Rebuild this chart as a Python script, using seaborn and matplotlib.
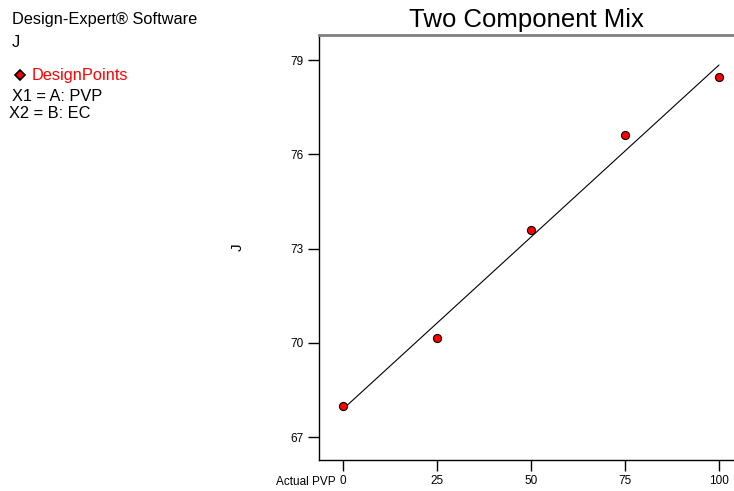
import matplotlib
matplotlib.use("Agg")
import matplotlib.pyplot as plt
import seaborn as sns
import pandas as pd

# Design points: PVP fraction vs response J
pvp = [0, 25, 50, 75, 100]
j_values = [68.0, 70.17, 73.59, 76.61, 78.47]
y_ticks = [67, 70, 73, 76, 79]
x_ticks = [0, 25, 50, 75, 100]

df = pd.DataFrame({"PVP": pvp, "J": j_values})

sns.set_style("white")
plt.rcParams["font.family"] = ["Liberation Sans", "DejaVu Sans"]
plt.rcParams["text.color"] = "black"
plt.rcParams["axes.labelcolor"] = "black"
plt.rcParams["xtick.color"] = "black"
plt.rcParams["ytick.color"] = "black"

fig = plt.figure(figsize=(7.34, 4.91), dpi=100)
ax = fig.add_axes([0.4346, 0.0631, 0.5654, 0.8656])

sns.regplot(
    data=df, x="PVP", y="J", ax=ax, ci=None, truncate=True,
    scatter_kws=dict(s=34, color="#ff0000", edgecolors="black",
                     linewidths=0.8, zorder=3, alpha=1),
    line_kws=dict(color="black", lw=0.8, zorder=2),
)

ax.set_xlim(-6.4, 104)
ax.set_ylim(66.27, 79.8)
ax.set_xticks(x_ticks)
ax.set_yticks(y_ticks)
ax.set_xticklabels([str(v) for v in x_ticks], fontsize=8.5)
ax.set_yticklabels([str(v) for v in y_ticks], fontsize=8.5)
ax.tick_params(axis="both", direction="out", length=8, width=1, color="black",
               labelcolor="black", left=True, bottom=True, pad=3)
ax.set_xlabel("")
ax.set_ylabel("J", fontsize=11, rotation=90, color="black")
ax.yaxis.set_label_coords(-0.178, 0.5)

for side in ("left", "bottom"):
    ax.spines[side].set_color("black")
    ax.spines[side].set_linewidth(1)
ax.spines["right"].set_visible(False)
ax.spines["top"].set_color("#808080")
ax.spines["top"].set_linewidth(2)

ax.set_title("Two Component Mix", fontsize=18.5, pad=6, color="black")

# axis caption next to the first tick label
fig.text(336 / 734, 1 - 485 / 491, "Actual PVP", fontsize=8.5, ha="right", va="baseline")

# information panel on the left
fs = 11.8
fig.text(12 / 734, 1 - 24 / 491, "Design-Expert® Software", fontsize=fs, va="baseline")
fig.text(12 / 734, 1 - 47 / 491, "J", fontsize=fs, va="baseline")
fig.lines.append(plt.Line2D([20 / 734], [1 - 75 / 491], transform=fig.transFigure,
                            marker="D", markersize=5, markerfacecolor="#ff0000",
                            markeredgecolor="black", markeredgewidth=1.2, lw=0))
fig.text(32 / 734, 1 - 80 / 491, "DesignPoints", fontsize=fs, color="#ff0000", va="baseline")
fig.text(12 / 734, 1 - 101 / 491, "X1 = A: PVP", fontsize=fs, va="baseline")
fig.text(9 / 734, 1 - 118 / 491, "X2 = B: EC", fontsize=fs, va="baseline")

fig.savefig("out.png", dpi=100)
